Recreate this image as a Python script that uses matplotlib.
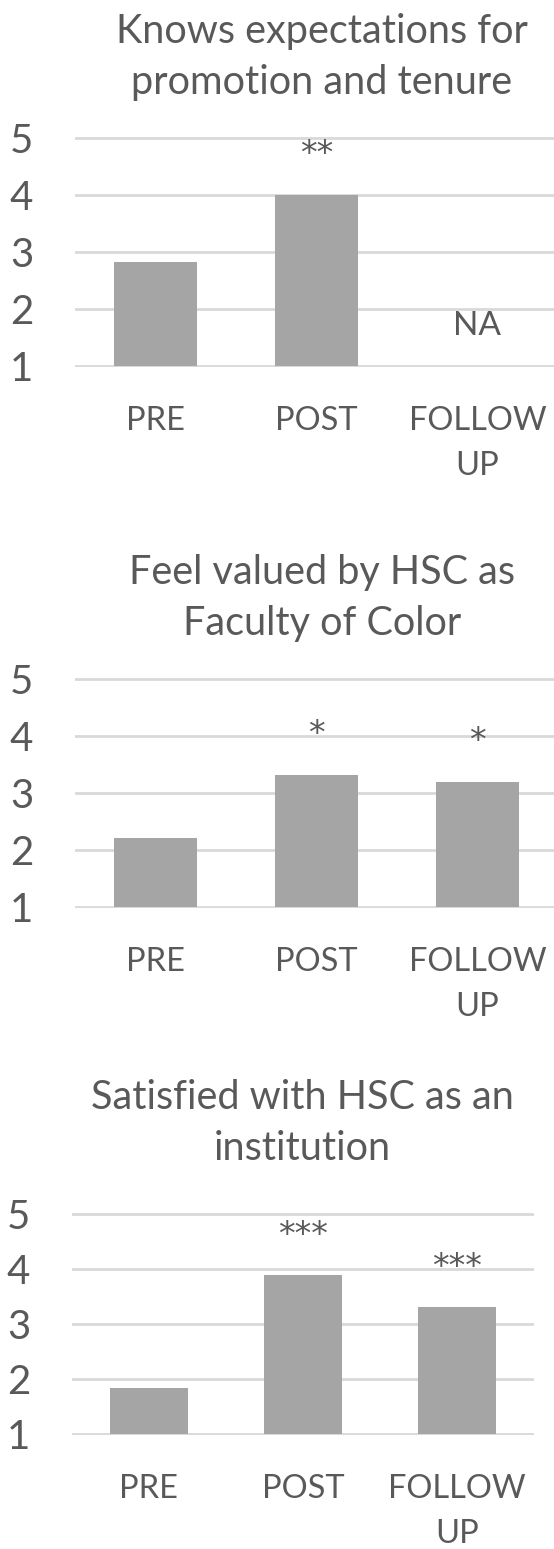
import numpy as np
import matplotlib
matplotlib.use("Agg")
import matplotlib.pyplot as plt

plt.rcParams['font.family'] = ['Lato', 'DejaVu Sans']

W, H = 554, 1549
DPI = 100
TEXT = '#595959'
BAR = '#A5A5A5'
GRID = '#D9D9D9'

categories = ["PRE", "POST", "FOLLOW\nUP"]
y_ticks = [1, 2, 3, 4, 5]

titles = ["Knows expectations for\npromotion and tenure",
          "Feel valued by HSC as\nFaculty of Color",
          "Satisfied with HSC as an\ninstitution"]

knows_expect = [2.82, 4.00, np.nan]
feel_valued = [2.21, 3.31, 3.19]
satisfied = [1.85, 3.88, 3.30]

knows_stars = ["", "**", "NA"]
valued_stars = ["", "*", "*"]
satisfied_stars = ["", "***", "***"]

series = [knows_expect, feel_valued, satisfied]
marks = [knows_stars, valued_stars, satisfied_stars]

# pixel layout of each panel: left, right edge of plot, y of value 5, y of value 1,
# category width (px), title centre
panels = [
    dict(left=75, right=554, top=137, bottom=367, cat=161, tx=322, ty=57),
    dict(left=75, right=554, top=678, bottom=908, cat=161, tx=322, ty=598),
    dict(left=72, right=534, top=1213, bottom=1435, cat=154, tx=302, ty=1123),
]

fig = plt.figure(figsize=(W / DPI, H / DPI), dpi=DPI)

for p, vals, mk, title in zip(panels, series, marks, titles):
    ax = fig.add_axes([p['left'] / W, 1 - p['bottom'] / H,
                       (p['right'] - p['left']) / W, (p['bottom'] - p['top']) / H])
    x = np.arange(len(categories))
    heights = [0 if np.isnan(v) else v - 1 for v in vals]
    ax.bar(x, heights, bottom=1, width=0.51, color=BAR, zorder=2)
    ax.set_xlim(-0.5, -0.5 + (p['right'] - p['left']) / p['cat'])
    ax.set_ylim(0.99, 5.01)
    ax.set_yticks(y_ticks)
    ax.set_xticks(x)
    ax.set_xticklabels(categories, linespacing=1.65)
    ax.tick_params(axis='y', length=0, pad=30, labelsize=29, labelcolor=TEXT)
    ax.tick_params(axis='x', length=0, pad=28, labelsize=23.5, labelcolor=TEXT)
    for s in ax.spines.values():
        s.set_visible(False)
    ax.yaxis.grid(True, color=GRID, linewidth=2, zorder=0)
    ax.set_axisbelow(True)
    for i, (v, m) in enumerate(zip(vals, mk)):
        if m == "NA":
            ax.text(i, 1.7, m, ha='center', va='center', fontsize=24, color=TEXT)
        elif m:
            ax.annotate(m, (i, v), xytext=(0, 29), textcoords='offset points',
                        ha='center', va='center', fontsize=24, color=TEXT,
                        family=['DejaVu Sans'])
    fig.text(p['tx'] / W, 1 - p['ty'] / H, title, ha='center', va='center',
             fontsize=28.5, color=TEXT, linespacing=1.45)

fig.savefig("out.png", dpi=DPI)
